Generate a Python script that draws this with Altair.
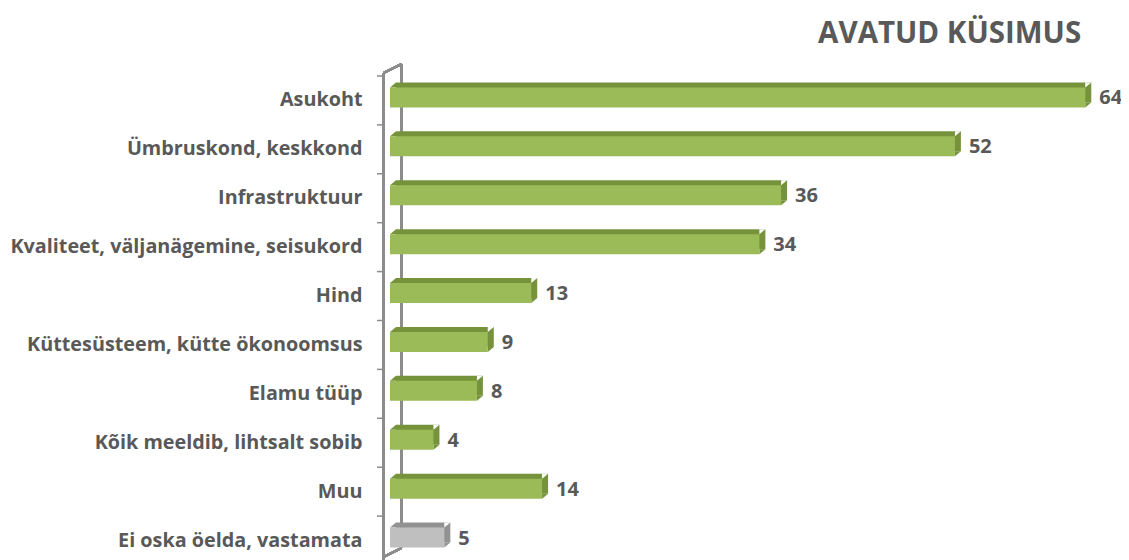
import altair as alt
import pandas as pd

categories = [
    "Asukoht",
    "Ümbruskond, keskkond",
    "Infrastruktuur",
    "Kvaliteet, väljanägemine, seisukord",
    "Hind",
    "Küttesüsteem, kütte ökonoomsus",
    "Elamu tüüp",
    "Kõik meeldib, lihtsalt sobib",
    "Muu",
    "Ei oska öelda, vastamata",
]
values = [64, 52, 36, 34, 13, 9, 8, 4, 14, 5]
other_category = "Ei oska öelda, vastamata"
title_text = "AVATUD KÜSIMUS"

df = pd.DataFrame({"kat": categories, "väärtus": values})

FONT = "Open Sans"
TXT = "#595959"
GREEN = "#9BBB59"
GREEN_DARK = "#76933C"
GREY = "#BFBFBF"
GREY_DARK = "#929292"
WALL = "#8C8C8C"

W = 717
H = 484
STEP = 48.9

y_enc = alt.Y(
    "kat:N",
    sort=categories,
    scale=alt.Scale(domain=categories, range=[0, STEP * 10], paddingInner=0, paddingOuter=0),
    axis=alt.Axis(
        title=None,
        domain=False,
        ticks=False,
        labelFont=FONT,
        labelFontSize=19.8,
        labelFontWeight="bold",
        labelColor=TXT,
        labelPadding=28,
        labelLimit=400,
        labelExpr="datum.label == 'Hind' ? 'Hind\u00a0\u00a0\u00a0\u00a0' : datum.label",
    ),
)
x_enc = alt.X("väärtus:Q", scale=alt.Scale(domain=[0, 66], nice=False), axis=None)

is_other = alt.datum.kat == other_category
dark_color = alt.condition(is_other, alt.value(GREY_DARK), alt.value(GREEN_DARK))

base = alt.Chart(df)

# back (depth) face: top + side of the 3D bar
back = base.mark_bar(height=20, xOffset=6, yOffset=-8).encode(
    x=x_enc, y=y_enc, color=dark_color,
)
# bevel at the start of the top face
bevel_start = base.mark_point(
    shape="M -1 0.667 L 1 -1 L 1 0.667 Z", size=36, filled=True, opacity=1,
    strokeWidth=0, yOffset=-15,
).encode(x=alt.value(3), y=y_enc, color=dark_color)
# bevel at the bottom of the side face
bevel_end = base.mark_point(
    shape="M -1 -1 L 1 -1 L -1 0.667 Z", size=36, filled=True, opacity=1,
    strokeWidth=0, xOffset=3, yOffset=5,
).encode(x=x_enc, y=y_enc, color=dark_color)
# cut corner at the top right
cut_corner = base.mark_point(
    shape="M -1 -1 L 1 -1 L -1 0.667 Z", size=36, filled=True, opacity=1,
    strokeWidth=0, xOffset=3, yOffset=-15,
).encode(x=x_enc, y=y_enc, color=alt.value("white"))

front = base.mark_bar(height=20, yOffset=-3).encode(
    x=x_enc, y=y_enc,
    color=alt.condition(is_other, alt.value(GREY), alt.value(GREEN)),
)
labels = base.mark_text(
    align="left", baseline="middle", dx=14, dy=-2,
    font=FONT, fontSize=20, fontWeight="bold", color=TXT,
).encode(x=x_enc, y=y_enc, text="väärtus:Q")

ticks = base.mark_rule(color=WALL, strokeWidth=1.5, yOffset=-STEP / 2).encode(
    y=y_enc, x=alt.value(-13), x2=alt.value(-6.5)
)

wall_left = alt.Chart(df).mark_rule(color=WALL, strokeWidth=2).encode(
    x=alt.value(-6.5), y=alt.value(-3), y2=alt.value(H + 30)
)
wall_back = alt.Chart(df).mark_rule(color=WALL, strokeWidth=2).encode(
    x=alt.value(11.5), y=alt.value(-12), y2=alt.value(472)
)
wall_top = alt.Chart(df).mark_rule(color=WALL, strokeWidth=2).encode(
    x=alt.value(-6.5), x2=alt.value(11.5), y=alt.value(-3), y2=alt.value(-12)
)
wall_bottom = alt.Chart(df).mark_rule(color=WALL, strokeWidth=2).encode(
    x=alt.value(11.5), x2=alt.value(-6.5), y=alt.value(472), y2=alt.value(481)
)

chart = (
    alt.layer(
        wall_back, wall_top, wall_bottom,
        back, bevel_start, bevel_end, cut_corner, front,
        wall_left, ticks, labels,
    )
    .properties(
        width=W,
        height=H,
        autosize=alt.AutoSizeParams(type="none"),
        padding={"left": 382, "top": 68, "right": 14, "bottom": 0},
        title=alt.TitleParams(
            title_text,
            anchor="end",
            font=FONT,
            fontSize=29.5,
            fontWeight="bold",
            color=TXT,
            offset=14,
            dx=-41,
        ),
    )
    .configure(background="white")
    .configure_view(strokeWidth=0, stroke="transparent")
)

chart.save("out.html", embed_options={"renderer": "svg", "actions": False})
